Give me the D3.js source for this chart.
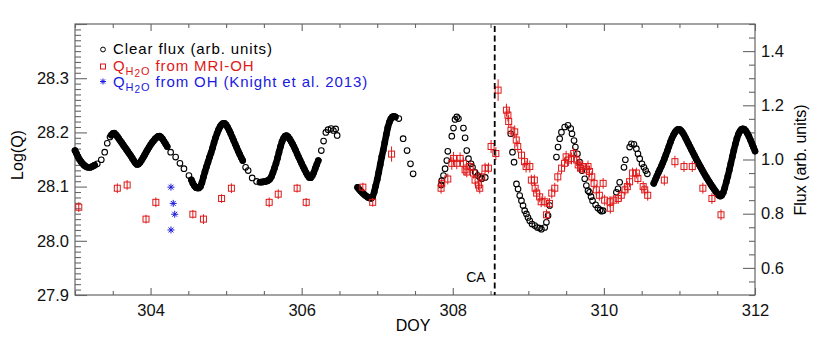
<!DOCTYPE html>
<html lang="en">
<head>
<meta charset="utf-8">
<title>Clear flux and Q(H2O) vs DOY</title>
<script src="https://d3js.org/d3.v7.min.js"></script>
<style>
  body { margin: 0; background: #fff; }
  svg { display: block; font-family: "Liberation Sans", Arial, sans-serif; }
  .frame { fill: none; stroke: #666; stroke-width: 1.2; }
  .tick line { stroke: #666; stroke-width: 1.1; }
  .tick text { fill: #111; font-size: 16.5px; }
  .domain { display: none; }
</style>
</head>
<body>
<script>

// DOY range and tick labels
var xTicks = [304, 306, 308, 310, 312];
var logQTicks = [27.9, 28.0, 28.1, 28.2, 28.3];
var fluxTicks = [0.6, 0.8, 1.0, 1.2, 1.4];
var closestApproach = 308.555;

// clear flux (arb. units), densely sampled runs [doy, flux]
var fluxDense = [
  [[303.00,1.033],[303.02,1.022],[303.04,1.010],[303.06,1.000],[303.08,0.992],[303.10,0.985],
   [303.12,0.979],[303.14,0.975],[303.16,0.972],[303.18,0.971],[303.20,0.971],[303.22,0.973],
   [303.24,0.976],[303.26,0.979]],
  [[303.48,1.090],[303.50,1.096],[303.52,1.097],[303.54,1.092],[303.56,1.085],[303.58,1.077],
   [303.60,1.069],[303.62,1.061],[303.64,1.053],[303.66,1.045],[303.68,1.037],[303.70,1.029],
   [303.72,1.021],[303.74,1.013],[303.76,1.004],[303.78,0.995],[303.80,0.987],[303.82,0.982],
   [303.84,0.983],[303.86,0.989],[303.88,0.997],[303.90,1.006],[303.92,1.016],[303.94,1.026],
   [303.96,1.036],[303.98,1.045],[304.00,1.054],[304.02,1.062],[304.04,1.069],[304.06,1.076],
   [304.08,1.081],[304.10,1.085],[304.12,1.086],[304.14,1.082],[304.16,1.075],[304.18,1.066],
   [304.20,1.057],[304.22,1.048]],
  [[304.54,0.925],[304.56,0.912],[304.58,0.903],[304.60,0.897],[304.62,0.895],[304.64,0.895],
   [304.66,0.900],[304.68,0.915],[304.70,0.935],[304.72,0.955],[304.74,0.973],[304.76,0.990],
   [304.78,1.008],[304.80,1.024],[304.82,1.042],[304.84,1.062],[304.86,1.080],[304.88,1.096],
   [304.90,1.110],[304.92,1.121],[304.94,1.129],[304.96,1.133],[304.98,1.133],[305.00,1.128],
   [305.02,1.119],[305.04,1.108],[305.06,1.096],[305.08,1.083],[305.10,1.070],[305.12,1.057],
   [305.14,1.044],[305.16,1.031],[305.18,1.019],[305.20,1.007],[305.22,0.996]],
  [[305.46,0.917],[305.48,0.917],[305.50,0.918],[305.52,0.919],[305.54,0.921],[305.56,0.923],
   [305.58,0.928],[305.60,0.937],[305.62,0.952],[305.64,0.968],[305.66,0.985],[305.68,1.005],
   [305.70,1.027],[305.72,1.048],[305.74,1.066],[305.76,1.078],[305.78,1.086],[305.80,1.088],
   [305.82,1.084],[305.84,1.076],[305.86,1.067],[305.88,1.057],[305.90,1.046],[305.92,1.034],
   [305.94,1.021],[305.96,1.009],[305.98,0.997],[306.00,0.985],[306.02,0.973],[306.04,0.962],
   [306.06,0.951],[306.08,0.941],[306.10,0.934],[306.12,0.933],[306.14,0.940],[306.16,0.952],
   [306.18,0.967],[306.20,0.982],[306.22,0.996]],
  [[306.74,0.897],[306.76,0.890],[306.78,0.884],[306.80,0.878],[306.82,0.873],[306.84,0.868],
   [306.86,0.864],[306.88,0.860],[306.90,0.858],[306.92,0.857],[306.94,0.862],[306.96,0.880],
   [306.98,0.903],[307.00,0.926],[307.02,0.953],[307.04,0.982],[307.06,1.010],[307.08,1.035],
   [307.10,1.063],[307.12,1.092],[307.14,1.118],[307.16,1.137],[307.18,1.150],[307.20,1.157],
   [307.22,1.159],[307.24,1.157]],
  [[310.66,0.912],[310.68,0.925],[310.70,0.938],[310.72,0.951],[310.74,0.963],[310.76,0.975],
   [310.78,0.988],[310.80,1.002],[310.82,1.017],[310.84,1.032],[310.86,1.048],[310.88,1.064],
   [310.90,1.078],[310.92,1.090],[310.94,1.100],[310.96,1.107],[310.98,1.111],[311.00,1.111],
   [311.02,1.107],[311.04,1.100],[311.06,1.091],[311.08,1.080],[311.10,1.069],[311.12,1.058],
   [311.14,1.047],[311.16,1.036],[311.18,1.025],[311.20,1.014],[311.22,1.003],[311.24,0.992],
   [311.26,0.982],[311.28,0.972],[311.30,0.962],[311.32,0.952],[311.34,0.942],[311.36,0.933],
   [311.38,0.924],[311.40,0.915],[311.42,0.906],[311.44,0.898],[311.46,0.890],[311.48,0.882],
   [311.50,0.874],[311.52,0.868],[311.54,0.865],[311.56,0.868],[311.58,0.878],[311.60,0.896],
   [311.62,0.917],[311.64,0.938],[311.66,0.961],[311.68,0.985],[311.70,1.010],[311.72,1.034],
   [311.74,1.057],[311.76,1.077],[311.78,1.093],[311.80,1.104],[311.82,1.111],[311.84,1.113],
   [311.86,1.111],[311.88,1.105],[311.90,1.096],[311.92,1.085],[311.94,1.072],[311.96,1.059],
   [311.98,1.045],[312.00,1.031]]
];

// clear flux (arb. units), sparsely sampled points [doy, flux]
var fluxSparse = [
  [303.295,0.984],[303.348,0.999],[303.393,1.027],[303.427,1.060],[303.463,1.083],
  [304.266,1.027],[304.332,1.009],[304.389,0.986],[304.442,0.966],[304.508,0.941],
  [305.258,0.971],[305.292,0.959],[305.345,0.932],[305.403,0.919],[305.447,0.916],
  [306.26,1.033],[306.29,1.068],[306.32,1.100],[306.35,1.110],[306.39,1.114],[306.42,1.107],
  [306.45,1.113],[306.47,1.089],
  [307.286,1.151],[307.343,1.077],[307.395,1.033],[307.440,0.984],[307.475,0.947],
  [307.845,0.906],[307.854,0.922],[307.877,0.941],[307.898,0.966],[307.921,0.996],[307.934,1.030],
  [307.987,1.086],[308.009,1.116],[308.030,1.148],[308.053,1.157],[308.075,1.151],[308.141,1.116],
  [308.163,1.080],[308.185,1.033],[308.208,1.003],[308.242,0.984],[308.261,0.971],[308.295,0.953],
  [308.331,0.941],[308.361,0.934],[308.384,0.929],[308.430,0.934],
  [308.767,1.095],[308.790,1.027],[308.811,0.990],[308.843,0.910],[308.864,0.891],[308.886,0.867],
  [308.909,0.848],[308.930,0.830],[308.952,0.811],[308.975,0.799],[308.996,0.786],[309.019,0.774],
  [309.049,0.762],[309.085,0.756],[309.120,0.749],[309.150,0.747],[309.173,0.743],[309.217,0.749],
  [309.239,0.768],[309.261,0.793],[309.283,0.830],
  [309.372,1.009],[309.393,1.046],[309.415,1.077],[309.438,1.101],[309.481,1.120],[309.525,1.126],
  [309.561,1.114],[309.578,1.095],[309.605,1.070],[309.623,1.046],[309.650,1.021],[309.680,0.990],
  [309.710,0.959],[309.746,0.929],[309.768,0.904],[309.790,0.885],[309.810,0.879],[309.830,0.863],
  [309.850,0.848],[309.890,0.833],[309.920,0.821],[309.950,0.814],[309.970,0.809],[309.990,0.811],
  [310.165,0.879],[310.187,0.892],[310.209,0.916],[310.266,0.971],[310.284,0.999],[310.341,1.046],
  [310.364,1.058],[310.398,1.056],[310.430,1.040],[310.451,1.021],[310.474,1.003],[310.504,0.984],
  [310.530,0.971],[310.553,0.959],[310.575,0.947]
];

// Q_H2O from MRI-OH [doy, log Q, error]
var qMriOh = [
  [303.05,28.062,0.009],[303.56,28.097,0.009],[303.69,28.103,0.009],[303.94,28.040,0.008],
  [304.07,28.071,0.009],[304.56,28.049,0.008],[304.70,28.040,0.009],[304.94,28.078,0.008],
  [305.07,28.097,0.009],[305.57,28.071,0.009],[305.69,28.086,0.009],[305.94,28.097,0.008],
  [306.06,28.071,0.008],[306.81,28.099,0.008],[306.94,28.071,0.008],[307.19,28.160,0.014],
  [307.845,28.097,0.010],[307.854,28.106,0.010],[307.934,28.114,0.010],[307.987,28.143,0.012],
  [308.009,28.152,0.012],[308.053,28.143,0.011],[308.097,28.152,0.011],[308.141,28.143,0.011],
  [308.163,28.131,0.011],[308.185,28.127,0.010],[308.229,28.137,0.011],[308.274,28.125,0.010],
  [308.295,28.112,0.010],[308.340,28.103,0.010],[308.357,28.097,0.010],[308.384,28.118,0.010],
  [308.427,28.134,0.010],[308.472,28.134,0.010],[308.507,28.174,0.012],[308.570,28.161,0.012],
  [308.600,28.278,0.020],[308.710,28.241,0.012],[308.730,28.232,0.012],[308.740,28.220,0.012],
  [308.770,28.204,0.012],[308.820,28.201,0.012],[308.840,28.186,0.012],[308.860,28.174,0.011],
  [308.910,28.158,0.011],[308.950,28.146,0.011],[308.970,28.137,0.011],[309.020,28.137,0.011],
  [309.040,28.112,0.010],[309.080,28.112,0.010],[309.090,28.097,0.010],[309.110,28.088,0.010],
  [309.150,28.081,0.010],[309.170,28.072,0.010],[309.220,28.072,0.010],[309.240,28.048,0.010],
  [309.280,28.069,0.010],[309.310,28.088,0.010],[309.350,28.097,0.010],[309.390,28.118,0.010],
  [309.440,28.134,0.011],[309.480,28.143,0.011],[309.500,28.155,0.011],[309.530,28.149,0.011],
  [309.570,28.152,0.011],[309.600,28.161,0.011],[309.640,28.149,0.011],[309.660,28.140,0.011],
  [309.690,28.134,0.011],[309.720,28.137,0.011],[309.770,28.131,0.011],[309.790,28.137,0.011],
  [309.810,28.128,0.011],[309.840,28.118,0.010],[309.870,28.106,0.010],[309.900,28.094,0.010],
  [309.940,28.084,0.010],[309.990,28.106,0.010],[310.010,28.075,0.010],[310.080,28.072,0.010],
  [310.085,28.060,0.010],[310.130,28.075,0.010],[310.190,28.078,0.010],[310.230,28.084,0.010],
  [310.280,28.094,0.010],[310.310,28.100,0.010],[310.340,28.109,0.010],[310.380,28.125,0.010],
  [310.430,28.125,0.010],[310.450,28.115,0.010],[310.520,28.100,0.010],[310.540,28.094,0.010],
  [310.580,28.084,0.010],[310.800,28.112,0.010],[310.940,28.146,0.011],[311.060,28.137,0.010],
  [311.170,28.137,0.010],[311.310,28.097,0.010],[311.430,28.078,0.010],[311.550,28.048,0.010]
];

// Q_H2O from OH (Knight et al. 2013) [doy, log Q]
var qKnight = [[304.27,28.099],[304.30,28.069],[304.32,28.049],[304.27,28.020]];

var width = 830, height = 346;
var margin = {left: 75, right: 75, top: 24, bottom: 51};

var svg = d3.select("body").append("svg")
  .attr("width", width)
  .attr("height", height);

var x = d3.scaleLinear().domain([303, 312]).range([margin.left, width - margin.right]);
var yQ = d3.scaleLinear().domain([27.9, 28.4]).range([height - margin.bottom, margin.top]);
var yF = d3.scaleLinear().domain([0.5, 1.5]).range([height - margin.bottom, margin.top]);

var x0 = margin.left, x1 = width - margin.right;
var y0 = height - margin.bottom, y1 = margin.top;

// minor ticks
var xMinor = d3.range(303, 312.001, 0.5).filter(function(d) { return xTicks.indexOf(d) < 0; });
var qMinor = d3.range(27.9, 28.4001, 0.01).map(function(d) { return +d.toFixed(2); })
  .filter(function(d) { return logQTicks.indexOf(d) < 0; });
var fMinor = d3.range(0.5, 1.5001, 0.05).map(function(d) { return +d.toFixed(2); })
  .filter(function(d) { return fluxTicks.indexOf(d) < 0; });

// bottom axis
svg.append("g").attr("transform", "translate(0," + y0 + ")")
  .call(d3.axisBottom(x).tickValues(xTicks).tickSize(-7).tickPadding(9).tickFormat(d3.format("d")));
svg.append("g").attr("transform", "translate(0," + y0 + ")")
  .call(d3.axisBottom(x).tickValues(xMinor).tickSize(-4).tickFormat(""));
// top axis
svg.append("g").attr("transform", "translate(0," + y1 + ")")
  .call(d3.axisTop(x).tickValues(xTicks).tickSize(-7).tickFormat(""));
svg.append("g").attr("transform", "translate(0," + y1 + ")")
  .call(d3.axisTop(x).tickValues(xMinor).tickSize(-4).tickFormat(""));
// left axis
svg.append("g").attr("transform", "translate(" + x0 + ",0)")
  .call(d3.axisLeft(yQ).tickValues(logQTicks.concat([28.4])).tickSize(-12).tickPadding(6)
    .tickFormat(function(d) { return d >= 28.35 ? "" : d3.format(".1f")(d); }));
svg.append("g").attr("transform", "translate(" + x0 + ",0)")
  .call(d3.axisLeft(yQ).tickValues(qMinor).tickSize(-6).tickFormat(""));
// right axis
svg.append("g").attr("transform", "translate(" + x1 + ",0)")
  .call(d3.axisRight(yF).tickValues(fluxTicks).tickSize(-12).tickPadding(6).tickFormat(d3.format(".1f")));
svg.append("g").attr("transform", "translate(" + x1 + ",0)")
  .call(d3.axisRight(yF).tickValues(fMinor).tickSize(-6).tickFormat(""));

svg.append("rect").attr("class", "frame")
  .attr("x", x0).attr("y", y1).attr("width", x1 - x0).attr("height", y0 - y1);

// clear flux: dense runs form a solid band of overlapping circles
var fluxLine = d3.line()
  .x(function(d) { return x(d[0]); })
  .y(function(d) { return yF(d[1]); });

svg.append("g").selectAll("path")
  .data(fluxDense)
  .enter()
  .append("path")
  .attr("d", fluxLine)
  .attr("fill", "none")
  .attr("stroke", "#000")
  .attr("stroke-width", 6.5)
  .attr("stroke-linejoin", "round")
  .attr("stroke-linecap", "round");

var allFlux = d3.merge(fluxDense).concat(fluxSparse);
svg.append("g").selectAll("circle")
  .data(allFlux)
  .enter()
  .append("circle")
  .attr("cx", function(d) { return x(d[0]); })
  .attr("cy", function(d) { return yF(d[1]); })
  .attr("r", 2.8)
  .attr("fill", "none")
  .attr("stroke", "#000")
  .attr("stroke-width", 1.1);

// MRI-OH squares with error bars
var red = "#e01818";
var mri = svg.append("g").selectAll("g")
  .data(qMriOh)
  .enter()
  .append("g");
mri.append("line")
  .attr("x1", function(d) { return x(d[0]); })
  .attr("x2", function(d) { return x(d[0]); })
  .attr("y1", function(d) { return yQ(d[1] - d[2]); })
  .attr("y2", function(d) { return yQ(d[1] + d[2]); })
  .attr("stroke", red).attr("stroke-width", 1);
mri.append("rect")
  .attr("x", function(d) { return x(d[0]) - 3; })
  .attr("y", function(d) { return yQ(d[1]) - 3; })
  .attr("width", 6).attr("height", 6)
  .attr("fill", "none").attr("stroke", red).attr("stroke-width", 1);

// Knight et al. asterisks
var blue = "#1a1ae0";
function asterisk(g, cx, cy, s) {
  [[-s, 0, s, 0], [0, -s, 0, s], [-s * 0.7, -s * 0.7, s * 0.7, s * 0.7], [-s * 0.7, s * 0.7, s * 0.7, -s * 0.7]]
    .forEach(function(l) {
      g.append("line")
        .attr("x1", cx + l[0]).attr("y1", cy + l[1])
        .attr("x2", cx + l[2]).attr("y2", cy + l[3])
        .attr("stroke", blue).attr("stroke-width", 1);
    });
}
var knight = svg.append("g");
qKnight.forEach(function(d) { asterisk(knight, x(d[0]), yQ(d[1]), 3.5); });

// closest approach
svg.append("line")
  .attr("x1", x(closestApproach)).attr("x2", x(closestApproach))
  .attr("y1", y1 + 2).attr("y2", y0)
  .attr("stroke", "#000").attr("stroke-width", 1.8)
  .attr("stroke-dasharray", "6,3.5");
svg.append("text")
  .attr("x", x(closestApproach) - 9).attr("y", 282)
  .attr("text-anchor", "end")
  .style("font-size", "14px")
  .text("CA");

// axis titles
svg.append("text")
  .attr("transform", "translate(23,155) rotate(-90)")
  .attr("text-anchor", "middle")
  .style("font-size", "16px")
  .text("Log(Q)");
svg.append("text")
  .attr("x", 413).attr("y", 331)
  .attr("text-anchor", "middle")
  .style("font-size", "16px")
  .text("DOY");
svg.append("text")
  .attr("transform", "translate(806,160) rotate(-90)")
  .attr("text-anchor", "middle")
  .style("font-size", "16px")
  .text("Flux (arb. units)");

// legend
var lg = svg.append("g").style("font-size", "15px").style("letter-spacing", "0.9px");
lg.append("circle").attr("cx", 103).attr("cy", 49.5).attr("r", 2.4)
  .attr("fill", "none").attr("stroke", "#000").attr("stroke-width", 1);
lg.append("text").attr("x", 113).attr("y", 54).text("Clear flux (arb. units)");

lg.append("rect").attr("x", 100.5).attr("y", 64).attr("width", 5).attr("height", 5)
  .attr("fill", "none").attr("stroke", red).attr("stroke-width", 1);
var t2 = lg.append("text").attr("x", 113).attr("y", 71).attr("fill", red);
t2.append("tspan").text("Q");
t2.append("tspan").attr("dy", 4).style("font-size", "11px").text("H");
t2.append("tspan").attr("dy", 2).style("font-size", "10px").text("2");
t2.append("tspan").attr("dy", -2).style("font-size", "11px").text("O");
t2.append("tspan").attr("dy", -4).text(" from MRI-OH");

asterisk(lg, 103, 81.5, 3);
var t3 = lg.append("text").attr("x", 113).attr("y", 86.5).attr("fill", blue);
t3.append("tspan").text("Q");
t3.append("tspan").attr("dy", 4).style("font-size", "11px").text("H");
t3.append("tspan").attr("dy", 2).style("font-size", "10px").text("2");
t3.append("tspan").attr("dy", -2).style("font-size", "11px").text("O");
t3.append("tspan").attr("dy", -4).text(" from OH (Knight et al. 2013)");

</script>
</body>
</html>
